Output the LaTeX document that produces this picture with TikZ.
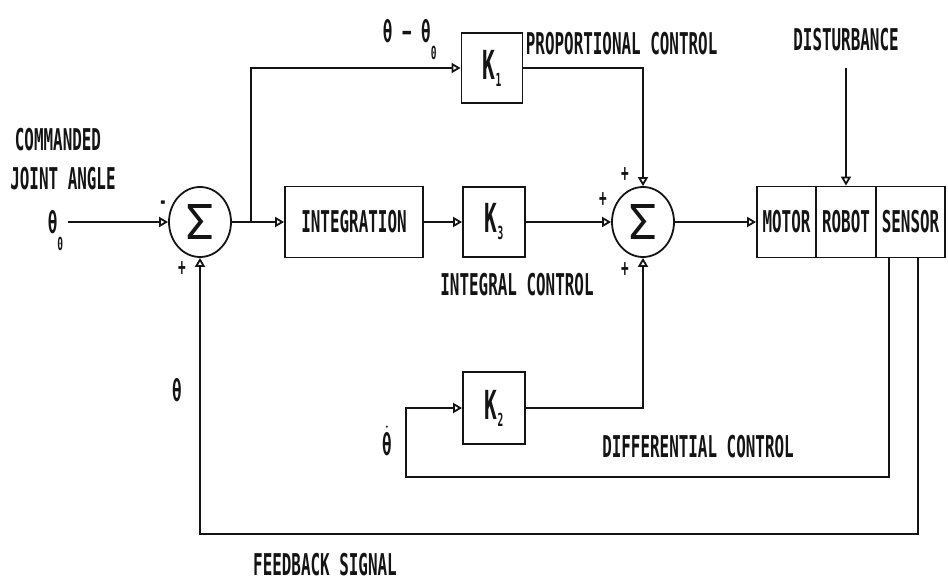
\documentclass[tikz,border=0pt]{standalone}
\usepackage{fontspec}
\usetikzlibrary{arrows.meta,calc,positioning,shapes.geometric}
\newfontfamily\dotfont{DejaVu Sans Mono Bold}[FakeStretch=0.53]
\newfontfamily\widefont{DejaVu Sans Mono}
\definecolor{ScanInk}{HTML}{141414}
\newcommand\gainlabel[1]{{\fontsize{40}{40}\selectfont K}\raisebox{-7pt}{\fontsize{18}{18}\selectfont #1}}
\newcommand\subzero{\raisebox{-17pt}{\fontsize{18}{18}\selectfont 0}}

\begin{document}
\begin{tikzpicture}[x=1pt,y=-1pt,line width=1.8pt,color=ScanInk,
    blk/.style={draw,rectangle,inner sep=0pt,
      font=\dotfont\fontsize{30}{30}\selectfont},
    sumnode/.style={draw,ellipse,minimum width=62pt,minimum height=70pt,
      inner sep=0pt,font=\widefont\fontsize{48}{48}\selectfont},
    lbl/.style={inner sep=0pt,font=\dotfont\fontsize{30}{30}\selectfont},
    sgn/.style={inner sep=0pt,font=\dotfont\fontsize{24}{24}\selectfont},
    flow/.style={-{Triangle[open,length=9pt,width=10pt]}}]
  \useasboundingbox (0,0) rectangle (948,584);

  % summing junctions and blocks
  \node[sumnode] (sumA) at (200,222) {Σ};
  \node[blk,minimum width=138pt,minimum height=71pt] (integ) at (354,222) {INTEGRATION};
  \node[blk,minimum width=62pt,minimum height=70pt] (kthree) at (494,222) {\gainlabel{3}};
  \node[blk,minimum width=61pt,minimum height=70pt] (kone) at (492,68) {\gainlabel{1}};
  \node[sumnode] (sumB) at (643,222) {Σ};
  \node[blk,minimum width=62pt,minimum height=72pt] (ktwo) at (494,408) {\gainlabel{2}};

  % plant
  \node[blk,minimum width=59pt,minimum height=71pt] (motor) at (786.5,222) {MOTOR};
  \node[blk,minimum width=60pt,minimum height=71pt] (robot) at (846,222) {ROBOT};
  \node[blk,minimum width=69pt,minimum height=71pt] (sensor) at (910.5,222) {SENSOR};

  % texts
  \node[lbl] (cmdlbl) at (58,140) {COMMANDED};
  \node[lbl] (jointlbl) at (63,179) {JOINT ANGLE};
  \node[lbl,anchor=base east] (thetaref) at (64,233) {θ\subzero};
  \node[lbl,anchor=base west] (errlbl) at (382,42) {θ − θ\subzero};
  \node[lbl,anchor=west] (proplbl) at (525,44) {PROPORTIONAL CONTROL};
  \node[lbl] (distlbl) at (846,40) {DISTURBANCE};
  \node[lbl] (intlbl) at (517,285) {INTEGRAL CONTROL};
  \node[lbl] (fbtheta) at (177,390) {θ};
  \node[lbl] (dtheta) at (387,441) {$\dot{\hbox{θ}}$};
  \node[lbl] (difflbl) at (698,447) {DIFFERENTIAL CONTROL};
  \node[lbl] (fblbl) at (325,565) {FEEDBACK SIGNAL};

  % signs
  \node[sgn] (sAm) at (163,205) {-};
  \node[sgn] (sAp) at (182,269) {+};
  \node[sgn] (sBt) at (625,175) {+};
  \node[sgn] (sBl) at (603,200) {+};
  \node[sgn] (sBb) at (625,270) {+};

  \coordinate (branch) at (251,222);
  \coordinate (distsrc) at (846,68);
  \coordinate (tapd) at (889,257);
  \coordinate (tapf) at (918,257);
  \coordinate (dloop) at (406,477);
  \coordinate (fbloop) at (200,534);

  % connectors
  \draw[flow] ([xshift=4pt]thetaref.east |- sumA.west) -- (sumA.west);
  \draw[flow] (sumA.east) -- (integ.west);
  \draw[flow] (branch) |- (kone.west);
  \draw[flow] (integ) -- (kthree);
  \draw[flow] (kthree) -- (sumB);
  \draw[flow] (kone.east) -| (sumB.north);
  \draw[flow] (sumB) -- (motor);
  \draw[flow] (distsrc) -- (robot.north);
  \draw[flow] (tapd) |- (dloop) |- (ktwo.west);
  \draw[flow] (ktwo.east) -| (sumB.south);
  \draw[flow] (tapf) |- (fbloop) -- (sumA.south);
\end{tikzpicture}
\end{document}
